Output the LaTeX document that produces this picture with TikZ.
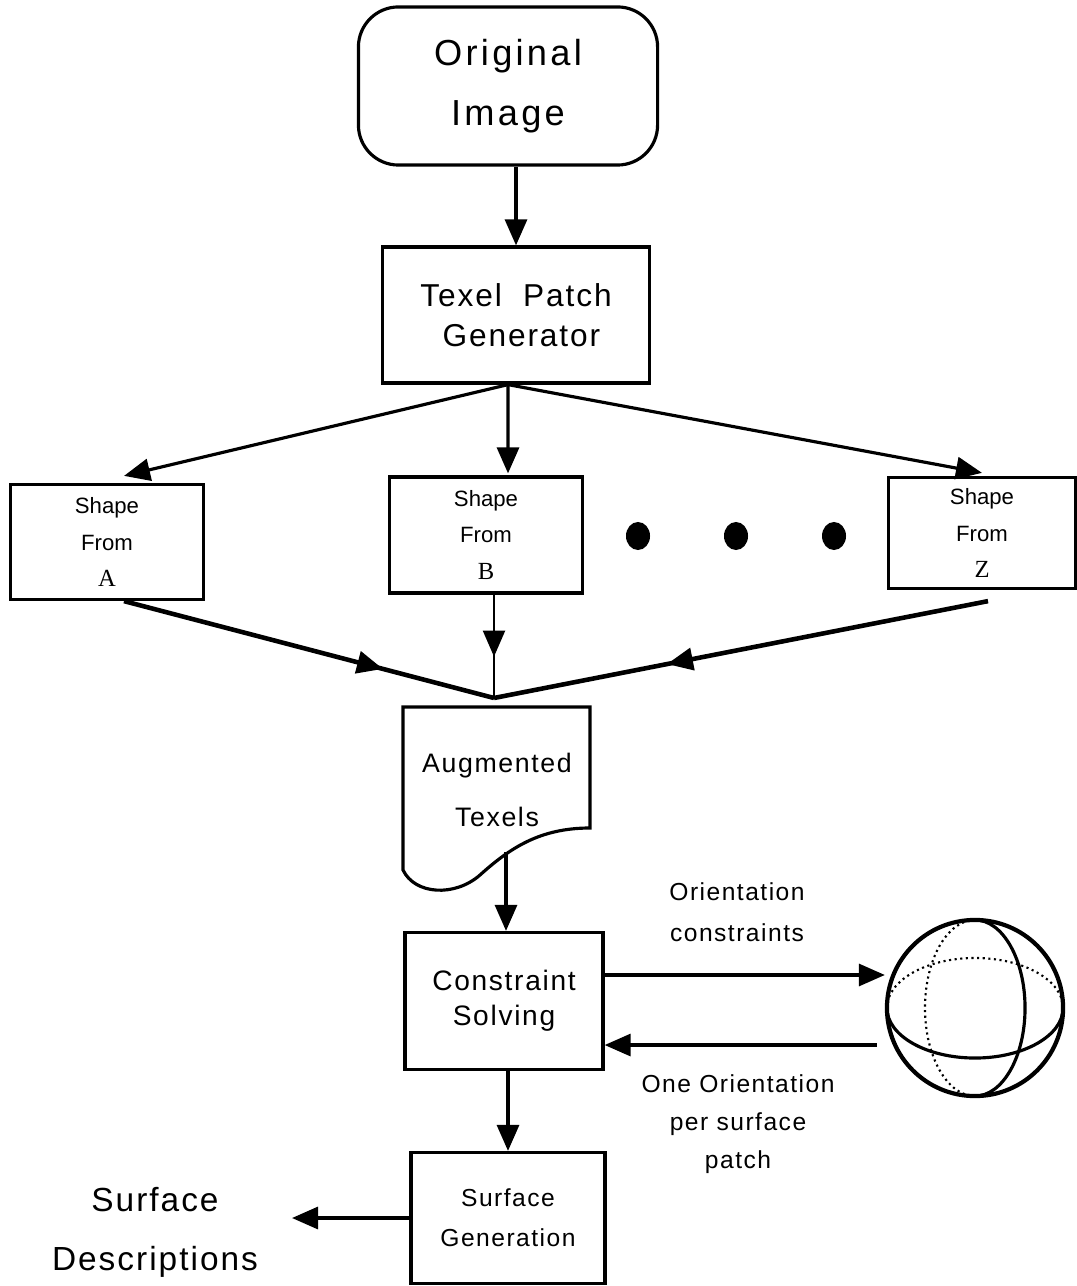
\documentclass[tikz,border=0pt]{standalone}
\usepackage{fontspec}
\setmainfont{Liberation Sans}[LetterSpace=6]
\newfontfamily\letterfont{Liberation Serif}
\usetikzlibrary{positioning,arrows.meta,decorations.markings}

\begin{document}
\begin{tikzpicture}[x=0.01cm,y=-0.01cm,>={Triangle[length=0.26cm,width=0.22cm]},
box/.style={draw,line width=0.9pt,inner sep=0pt,align=center},
shp/.style={box,minimum width=1.93cm,minimum height=1.15cm,font=\fontsize{6.3}{10.3}\selectfont\addfontfeature{LetterSpace=0}},
lbl/.style={align=center,font=\fontsize{7}{11.7}\selectfont},
ln/.style={line width=0.9pt},
midarr/.style={postaction={decorate},decoration={markings,
  mark=at position #1 with {\arrow{Triangle[length=0.26cm,width=0.22cm]}}}}]
\useasboundingbox (0,0) rectangle (1076,1286);
\node[box,rounded corners=0.4cm,minimum width=2.99cm,minimum height=1.58cm,
  font=\fontsize{10.3}{17}\selectfont\addfontfeature{LetterSpace=9}] (orig) at (508,86) {Original\\Image};
\node[box,minimum width=2.67cm,minimum height=1.36cm,font=\fontsize{9}{11.4}\selectfont] (tpg) at (516,315) {Texel~ Patch\\\ Generator};
\node[shp] (sfa) at (107,542) {Shape\\From\\{\letterfont\fontsize{7}{8}\selectfont A}};
\node[shp,minimum width=1.93cm,minimum height=1.16cm] (sfb) at (486,535) {Shape\\From\\{\letterfont\fontsize{7}{8}\selectfont B}};
\node[shp,minimum width=1.87cm,minimum height=1.11cm] (sfz) at (982,533) {Shape\\From\\{\letterfont\fontsize{7}{8}\selectfont Z}};
\foreach \dx in {638,736,834} \fill (\dx,536) ellipse [x radius=0.12cm,y radius=0.14cm];
\coordinate (join) at (494,698);
\draw[ln] (403,707) -- (590,707) -- (590,828) .. controls (540,828) and (510,848) .. (480,875)
  .. controls (455,897) and (415,895) .. (403,870) -- cycle;
\node[align=center,font=\fontsize{7.6}{15.6}\selectfont] (aug) at (497,790) {Augmented\\Texels};
\coordinate (augbot) at (506,852);
\node[box,minimum width=1.98cm,minimum height=1.37cm,font=\fontsize{8}{10}\selectfont] (cons) at (504,1001) {Constraint\\Solving};
\node[circle,draw,line width=1.2pt,minimum size=1.76cm,inner sep=0pt] (sph) at (975,1008) {};
\node[lbl] (oc) at (737,912) {Orientation\\constraints};
\node[lbl,font=\fontsize{7}{10.8}\selectfont] (oo) at (738,1124) {One Orientation\\per surface\\patch};
\node[box,minimum width=1.94cm,minimum height=1.31cm,font=\fontsize{7}{11.4}\selectfont] (surf) at (508,1218) {Surface\\Generation};
\node[align=center,font=\fontsize{9.5}{16.8}\selectfont] (desc) at (155,1232) {Surface\\Descriptions};
\coordinate (out) at (292,1218);
\draw[->,ln] (orig.south -| tpg.north) -- (tpg.north);
\draw[->,ln] ([xshift=-0.08cm]tpg.south) -- ([xshift=0.17cm,yshift=0.07cm]sfa.north);
\draw[->,ln] ([xshift=-0.08cm]tpg.south) -- ([xshift=0.22cm,yshift=0.02cm]sfb.north);
\draw[->,ln] ([xshift=-0.08cm]tpg.south) -- ([yshift=0.03cm]sfz.north);
\draw[line width=1.3pt,midarr=0.7] ([xshift=0.17cm]sfa.south) -- (join);
\draw[line width=0.6pt,midarr=0.6] (sfb.south -| join) -- (join);
\draw[line width=1.3pt,midarr=0.65] ([xshift=0.06cm,yshift=-0.11cm]sfz.south) -- (join);
\draw[->,ln] (augbot) -- (augbot |- cons.north);
\draw[->,ln] ([yshift=0.26cm]cons.east) -- ([yshift=0.26cm]cons.east -| sph.west);
\draw[->,ln] ([xshift=-0.08cm,yshift=-0.44cm]cons.east -| sph.west) -- ([yshift=-0.44cm]cons.east);
\draw[line width=0.6pt,densely dotted] ([xshift=-0.88cm]sph.center) arc[start angle=180,end angle=0,x radius=0.88cm,y radius=0.5cm];
\draw[line width=0.9pt] ([xshift=-0.88cm]sph.center) arc[start angle=180,end angle=360,x radius=0.88cm,y radius=0.5cm];
\draw[line width=0.6pt,densely dotted] ([yshift=0.88cm]sph.center) arc[start angle=90,end angle=270,x radius=0.5cm,y radius=0.88cm];
\draw[line width=0.9pt] ([yshift=0.88cm]sph.center) arc[start angle=90,end angle=-90,x radius=0.5cm,y radius=0.88cm];
\draw[->,ln] (cons.south -| surf.north) -- (surf.north);
\draw[->,ln] (surf.west) -- (out);
\end{tikzpicture}
\end{document}
